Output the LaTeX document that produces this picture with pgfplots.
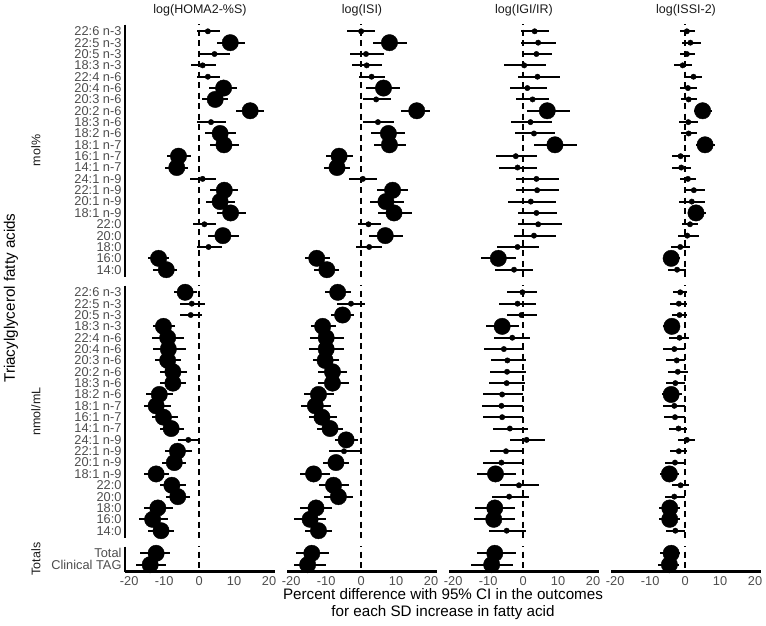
\documentclass[border=0pt]{standalone}
\usepackage{fontspec}
\setmainfont{Liberation Sans}
\usepackage{pgfplots}
\usepackage{pgfplotstable}
\pgfplotsset{compat=1.18}

\definecolor{grey30}{RGB}{77,77,77}
\definecolor{grey10}{RGB}{26,26,26}

% columns: r = row, then estimate / lower / upper / significant for each outcome
% 1 = HOMA2-%S, 2 = ISI, 3 = IGI/IR, 4 = ISSI-2
\pgfplotstableread{
r e1 l1 h1 s1 e2 l2 h2 s2 e3 l3 h3 s3 e4 l4 h4 s4
0 2.5 -0.7 6.0 0 0.0 -3.9 4.0 0 3.3 -0.5 7.4 0 0.5 -1.6 2.7 0
1 8.9 5.0 13.1 1 8.1 3.3 13.0 1 4.3 -0.5 9.5 0 1.5 -0.9 4.4 0
2 4.4 -0.2 8.7 0 1.4 -3.1 6.4 0 3.8 -0.3 8.3 0 0.5 -1.6 2.9 0
3 1.0 -2.4 4.9 0 1.6 -2.5 5.9 0 0.3 -5.4 6.4 0 -0.7 -3.3 2.0 0
4 2.5 -0.7 6.0 0 3.0 -0.5 6.9 0 4.1 -1.6 10.5 0 2.4 -0.1 4.9 0
5 7.0 2.7 10.9 1 6.4 1.3 11.1 1 1.2 -3.8 6.7 0 0.8 -1.4 3.3 0
6 4.6 0.8 8.4 1 4.3 0.4 8.5 0 2.7 -1.9 7.4 0 1.0 -1.1 3.3 0
7 14.6 10.6 18.6 1 15.9 11.4 19.7 1 6.9 1.0 13.3 1 5.0 2.4 7.7 1
8 3.4 -0.5 7.7 0 4.8 0.5 9.5 0 2.1 -3.5 8.3 0 0.9 -1.8 3.8 0
9 6.0 1.7 10.6 1 7.8 2.9 12.6 1 3.1 -2.2 9.1 0 1.0 -1.3 3.4 0
10 7.1 3.1 11.5 1 8.1 3.8 12.9 1 9.1 3.1 15.4 1 5.7 3.1 8.6 1
11 -5.9 -9.2 -2.4 1 -6.3 -10.0 -2.4 1 -2.1 -7.9 4.0 0 -1.3 -3.8 1.4 0
12 -6.4 -9.7 -3.1 1 -6.9 -10.5 -3.1 1 -1.6 -6.9 4.1 0 -1.1 -3.7 1.7 0
13 1.0 -2.6 4.8 0 0.5 -3.4 4.5 0 3.8 -1.9 10.3 0 0.8 -1.6 3.1 0
14 7.2 3.1 11.2 1 9.0 4.5 13.3 1 4.0 -1.9 10.3 0 2.5 -0.1 5.7 0
15 6.0 2.0 10.3 1 7.1 2.4 12.3 1 2.2 -4.3 9.3 0 1.9 -1.8 5.8 0
16 9.0 5.0 13.4 1 9.4 4.7 14.5 1 3.8 -1.6 9.8 0 3.1 0.9 6.0 1
17 1.5 -1.8 4.9 0 2.1 -1.0 5.6 0 4.3 -1.6 11.0 0 1.4 -0.9 3.8 0
18 6.8 2.4 11.5 1 6.9 2.3 12.1 1 3.1 -2.6 9.3 0 0.6 -2.1 4.1 0
19 2.7 -0.7 6.5 0 2.3 -1.5 5.9 0 -1.6 -7.4 4.6 0 -1.4 -4.0 1.5 0
20 -11.6 -14.5 -8.5 1 -12.7 -16.0 -9.0 1 -7.1 -12.1 -1.9 1 -4.0 -6.2 -1.6 1
21 -9.4 -13.1 -6.4 1 -9.8 -13.6 -6.2 1 -2.6 -8.1 2.9 0 -2.3 -4.8 0.3 0
}\molpct

\pgfplotstableread{
r e1 l1 h1 s1 e2 l2 h2 s2 e3 l3 h3 s3 e4 l4 h4 s4
0 -4.0 -7.3 -0.5 1 -6.7 -10.3 -2.9 1 -0.2 -4.5 4.1 0 -1.4 -3.5 0.5 0
1 -2.1 -5.6 1.7 0 -2.9 -6.9 1.1 0 -1.6 -6.9 3.8 0 -1.8 -4.2 0.5 0
2 -2.4 -5.4 0.8 0 -5.3 -8.6 -1.9 1 -0.5 -4.7 4.1 0 -1.6 -3.7 0.6 0
3 -10.2 -13.3 -6.9 1 -11.0 -14.3 -7.2 1 -6.0 -10.7 -1.1 1 -3.8 -6.2 -1.4 1
4 -9.0 -13.5 -4.2 1 -10.0 -14.6 -4.9 1 -3.1 -8.4 2.1 0 -1.6 -4.5 1.0 0
5 -8.8 -13.2 -3.8 1 -10.0 -14.9 -4.8 1 -5.5 -11.2 0.2 0 -3.1 -6.4 0.1 0
6 -9.0 -12.6 -5.2 1 -10.3 -13.9 -6.2 1 -4.5 -9.2 0.8 0 -2.4 -5.4 0.1 0
7 -7.5 -11.1 -3.5 1 -8.2 -12.2 -3.9 1 -4.6 -9.5 0.8 0 -2.1 -4.8 0.8 0
8 -7.5 -11.1 -3.8 1 -8.2 -12.2 -3.6 1 -4.7 -9.7 0.5 0 -2.8 -5.6 0.1 0
9 -11.4 -15.1 -7.5 1 -12.2 -16.2 -7.9 1 -6.0 -11.4 0.1 0 -4.0 -6.7 -1.0 1
10 -12.3 -15.7 -8.1 1 -13.1 -17.2 -8.6 1 -6.2 -11.9 0.1 0 -3.1 -6.2 0.1 0
11 -10.2 -13.5 -5.9 1 -11.2 -15.0 -6.9 1 -6.0 -11.6 0.1 0 -2.9 -6.0 0.1 0
12 -8.0 -11.1 -4.3 1 -8.9 -12.5 -5.3 1 -3.8 -8.6 1.4 0 -1.9 -4.5 0.5 0
13 -3.1 -5.9 0.3 0 -4.3 -7.6 -0.9 1 1.0 -3.8 6.2 0 0.5 -2.1 2.9 0
14 -6.2 -9.7 -2.1 1 -4.9 -9.3 0.1 0 -4.9 -9.5 0.2 0 -1.8 -4.2 0.5 0
15 -7.1 -10.7 -3.8 1 -7.2 -10.8 -3.4 1 -6.2 -11.6 -0.2 0 -2.9 -5.7 0.1 0
16 -12.3 -15.9 -8.5 1 -13.6 -17.6 -9.0 1 -7.9 -13.1 -2.1 1 -4.5 -7.1 -1.8 1
17 -7.8 -11.1 -3.8 1 -7.9 -12.0 -3.4 1 -1.2 -6.5 4.6 0 -1.3 -3.8 1.2 0
18 -6.1 -9.4 -2.6 1 -6.5 -10.5 -2.2 1 -4.0 -9.0 1.6 0 -3.1 -5.7 0.1 0
19 -11.8 -15.9 -7.5 1 -12.9 -17.6 -8.2 1 -8.1 -13.8 -2.2 1 -4.4 -7.6 -1.4 1
20 -13.3 -17.3 -8.9 1 -14.6 -19.1 -10.0 1 -8.4 -14.0 -2.4 1 -4.4 -7.6 -1.4 1
21 -10.9 -14.5 -7.1 1 -12.2 -16.0 -8.2 1 -4.7 -9.8 0.7 0 -2.8 -5.4 0.1 0
}\nmol

\pgfplotstableread{
r e1 l1 h1 s1 e2 l2 h2 s2 e3 l3 h3 s3 e4 l4 h4 s4
0 -12.3 -17.0 -8.3 1 -14.1 -18.6 -9.3 1 -8.1 -13.3 -1.9 1 -4.0 -7.3 -1.4 1
1 -14.0 -18.0 -9.5 1 -15.3 -19.3 -10.0 1 -9.0 -14.9 -2.9 1 -4.5 -7.8 -1.8 1
}\totals

\pgfplotsset{
  fp/.style={
    scale only axis, width=150pt, anchor=north west,
    xmin=-21.2, xmax=21.7, y dir=reverse,
    major tick length=0pt,
    axis line style={line width=2.2pt},
    tick label style={font=\fontsize{12.8}{12.8}\selectfont, text=grey30},
    xticklabel style={yshift=-1.5pt},
  },
  grp/.style={height=252pt, ymin=-0.6, ymax=21.6},
  tot/.style={height=25pt, ymin=-0.6, ymax=1.6},
  leftfa/.style={axis y line*=left, ytick={0,...,21},
    yticklabels={22:6 n-3,22:5 n-3,20:5 n-3,18:3 n-3,22:4 n-6,20:4 n-6,20:3 n-6,20:2 n-6,18:3 n-6,18:2 n-6,18:1 n-7,16:1 n-7,14:1 n-7,24:1 n-9,22:1 n-9,20:1 n-9,18:1 n-9,22:0,20:0,18:0,16:0,14:0}},
  lefttot/.style={axis y line*=left, ytick={0,1}, yticklabels={Total,Clinical TAG}},
  noy/.style={axis y line=none, ytick=\empty},
  botx/.style={axis x line*=bottom, xtick={-20,-10,0,10,20}, xticklabels={-20,-10,0,10,20}},
  nox/.style={axis x line=none, xtick=\empty},
}

% one forest panel: dashed zero line, CI bars, dots sized by significance
\newcommand{\forest}[2]{%
  \addplot[black, line width=1.6pt, dash pattern=on 6pt off 4.5pt] coordinates {(0,-2) (0,30)};
  \addplot[scatter, only marks, mark=*,
    scatter/use mapped color={draw=black, fill=black},
    visualization depends on={\thisrow{s#2} \as \sig},
    scatter/@pre marker code/.append style={/tikz/mark size=2.7pt+5.5pt*\sig},
    error bars/.cd, x dir=both, x explicit, error mark=none,
    error bar style={line width=2pt, black, solid}]
    table[x=e#2, y=r, x error plus expr=\thisrow{h#2}-\thisrow{e#2}, x error minus expr=\thisrow{e#2}-\thisrow{l#2}] {#1};
}

\begin{document}
\begin{tikzpicture}
\useasboundingbox (0pt,0pt) rectangle (766pt,-626pt);

% mol% row
\begin{axis}[fp, grp, leftfa, nox, at={(125pt,-24.5pt)}] \forest{\molpct}{1} \end{axis}
\begin{axis}[fp, grp, noy, nox, at={(287pt,-24.5pt)}] \forest{\molpct}{2} \end{axis}
\begin{axis}[fp, grp, noy, nox, at={(449pt,-24.5pt)}] \forest{\molpct}{3} \end{axis}
\begin{axis}[fp, grp, noy, nox, at={(611pt,-24.5pt)}] \forest{\molpct}{4} \end{axis}

% nmol/mL row
\begin{axis}[fp, grp, leftfa, nox, at={(125pt,-285.5pt)}] \forest{\nmol}{1} \end{axis}
\begin{axis}[fp, grp, noy, nox, at={(287pt,-285.5pt)}] \forest{\nmol}{2} \end{axis}
\begin{axis}[fp, grp, noy, nox, at={(449pt,-285.5pt)}] \forest{\nmol}{3} \end{axis}
\begin{axis}[fp, grp, noy, nox, at={(611pt,-285.5pt)}] \forest{\nmol}{4} \end{axis}

% totals row
\begin{axis}[fp, tot, lefttot, botx, at={(125pt,-546.5pt)}] \forest{\totals}{1} \end{axis}
\begin{axis}[fp, tot, noy, botx, at={(287pt,-546.5pt)}] \forest{\totals}{2} \end{axis}
\begin{axis}[fp, tot, noy, botx, at={(449pt,-546.5pt)}] \forest{\totals}{3} \end{axis}
\begin{axis}[fp, tot, noy, botx, at={(611pt,-546.5pt)}] \forest{\totals}{4} \end{axis}

% strips
\begin{scope}[every node/.style={font=\fontsize{12.5}{12.5}\selectfont, text=grey10}]
\node at (200pt,-10.5pt) {log(HOMA2-\%S)};
\node at (362pt,-10.5pt) {log(ISI)};
\node at (524pt,-10.5pt) {log(IGI/IR)};
\node at (686pt,-10.5pt) {log(ISSI-2)};
\node[rotate=90] at (36pt,-150.5pt) {mol\%};
\node[rotate=90] at (36pt,-411.5pt) {nmol/mL};
\node[rotate=90] at (36pt,-559pt) {Totals};
\end{scope}

% axis titles
\node[rotate=90, font=\fontsize{15.2}{15.2}\selectfont] at (11pt,-298pt) {Triacylglycerol fatty acids};
\node[align=center, font=\fontsize{15.2}{16.5}\selectfont] at (443pt,-604pt) {Percent difference with 95\% CI in the outcomes\\for each SD increase in fatty acid};
\end{tikzpicture}
\end{document}
